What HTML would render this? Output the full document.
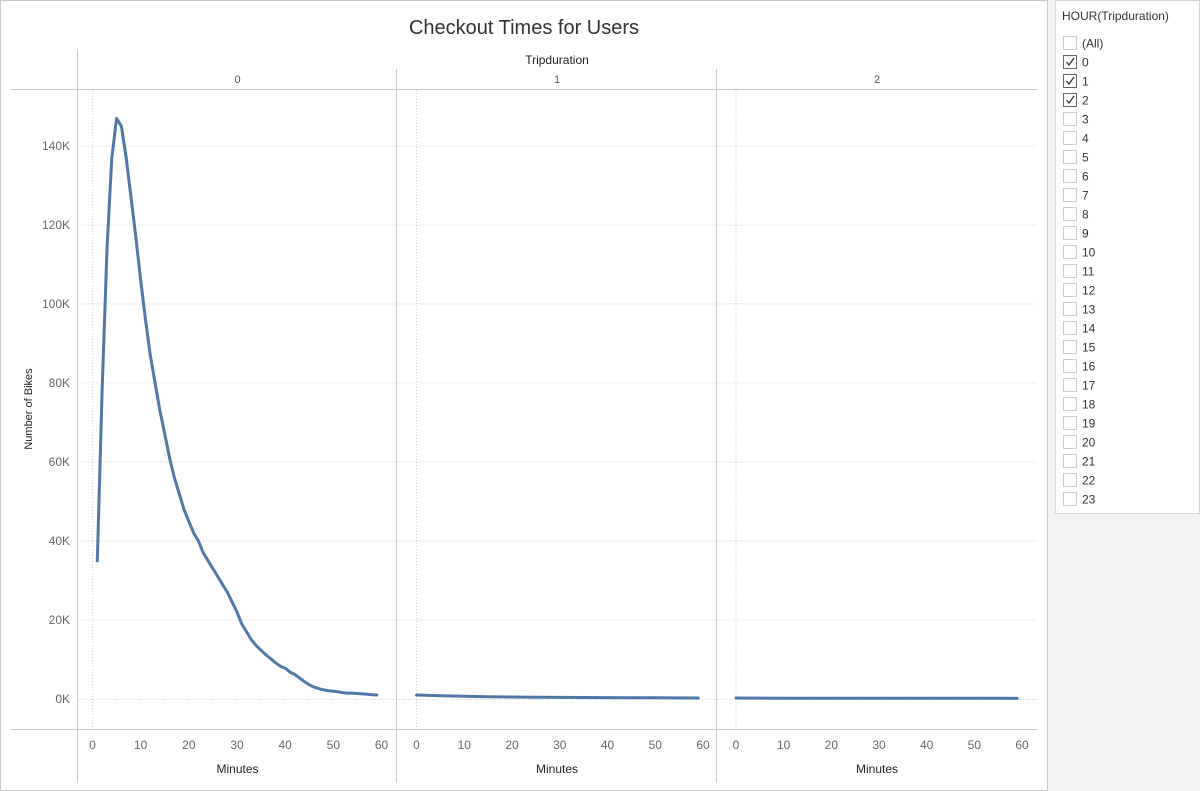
<!DOCTYPE html>
<html><head><meta charset="utf-8">
<style>
body{margin:0;width:1200px;height:791px;overflow:hidden;background:#f2f2f2;font-family:"Liberation Sans",sans-serif}
#chart{position:absolute;left:0;top:0}
</style></head>
<body>
<svg id="chart" width="1200" height="791">
<rect x="0" y="0" width="1048" height="791" fill="#fff"/>
<rect x="0.5" y="0.5" width="1047" height="790" fill="none" stroke="#c8c8c8"/>
<text x="524" y="34" text-anchor="middle" font-size="20" fill="#333">Checkout Times for Users</text>
<text x="557" y="64" text-anchor="middle" font-size="12" fill="#222">Tripduration</text>
<g id="grid"></g>
<g id="panels"></g>
<text transform="translate(32,409) rotate(-90)" text-anchor="middle" font-size="11" fill="#222">Number of Bikes</text>
<g id="filter"></g>
</svg>
<script>
const panelLabels=["0","1","2"];
const minutes0=[1,2,3,4,5,6,7,8,9,10,11,12,13,14,15,16,17,18,19,20,21,22,23,24,25,26,27,28,29,30,31,32,33,34,35,36,37,38,39,40,41,42,43,44,45,46,47,48,49,50,51,52,53,54,55,56,57,58,59];
const bikes0=[35,78,114,137,147,145,137,127,117,106,96,87,80,73,67,61,56,52,48,45,42,40,37,35,33,31,29,27,24.5,22,19,17,15,13.5,12.3,11.2,10.2,9.2,8.3,7.8,6.8,6.2,5.3,4.4,3.6,3.0,2.6,2.3,2.1,2.0,1.8,1.6,1.5,1.5,1.4,1.3,1.2,1.1,1.0];
const minutes12=[0,5,10,15,20,25,30,35,40,45,50,55,59];
const bikes1=[1.0,0.8,0.7,0.55,0.5,0.45,0.4,0.38,0.35,0.33,0.3,0.28,0.25];
const bikes2=[0.25,0.22,0.2,0.2,0.2,0.2,0.2,0.2,0.2,0.18,0.18,0.17,0.15];
const yTicks=[0,20,40,60,80,100,120,140];
const xTicks=[0,10,20,30,40,50,60];
const hours=["(All)","0","1","2","3","4","5","6","7","8","9","10","11","12","13","14","15","16","17","18","19","20","21","22","23"];
const checked=["0","1","2"];

const NS="http://www.w3.org/2000/svg";
function mk(tag,attrs,parent){const e=document.createElementNS(NS,tag);for(const k in attrs)e.setAttribute(k,attrs[k]);parent.appendChild(e);return e;}
const y=v=>699-v*3.95;
const panelX=[[78,397,92.5,381.5],[397,717,416.5,703],[717,1037,736,1022]];
const grid=document.getElementById('grid');
const panels=document.getElementById('panels');
yTicks.forEach(t=>{
  if(t>0){const l=mk('line',{x1:78,x2:1037,y1:y(t),y2:y(t),stroke:'#efefef'},grid);
  
  }
  const tx=mk('text',{x:70,y:y(t)+4,'text-anchor':'end','font-size':12,fill:'#666'},grid);
  
  
  tx.textContent=t+'K';
});
mk('line',{x1:78,x2:1037,y1:699.5,y2:699.5,stroke:'#ccc','stroke-dasharray':'1,2'},grid);
mk('line',{x1:11,x2:1037,y1:89.5,y2:89.5,stroke:'#c8c8c8'},grid);
mk('line',{x1:11,x2:1037,y1:729.5,y2:729.5,stroke:'#c8c8c8'},grid);
mk('line',{x1:77.5,x2:77.5,y1:49,y2:783,stroke:'#c8c8c8'},grid);
mk('line',{x1:396.5,x2:396.5,y1:69,y2:783,stroke:'#c8c8c8'},grid);
mk('line',{x1:716.5,x2:716.5,y1:69,y2:783,stroke:'#c8c8c8'},grid);
const series=[[minutes0,bikes0],[minutes12,bikes1],[minutes12,bikes2]];
panelX.forEach((p,i)=>{
  const xs=m=>p[2]+(p[3]-p[2])*m/60;
  const g=mk('g',{},panels);
  
  
  const h=mk('text',{x:(p[0]+p[1])/2,y:83,'text-anchor':'middle','font-size':11,fill:'#555'},g);
  
  
  h.textContent=panelLabels[i];
  mk('line',{x1:xs(0),x2:xs(0),y1:90,y2:729,stroke:'#ccc','stroke-dasharray':'1,2'},g);
  xTicks.forEach(t=>{
    const tx=mk('text',{x:xs(t),y:749,'text-anchor':'middle','font-size':12,fill:'#666'},g);
    
    
    tx.textContent=t;
  });
  const at=mk('text',{x:(p[0]+p[1])/2,y:773,'text-anchor':'middle','font-size':12,fill:'#222'},g);
  
  
  at.textContent='Minutes';
  const [ms,vs]=series[i];
  const d=ms.map((m,k)=>(k?'L':'M')+xs(m).toFixed(1)+','+y(vs[k]).toFixed(1)).join(' ');
  const path=mk('path',{d:d,fill:'none',stroke:'#4e79a7','stroke-width':3,'stroke-linejoin':'round','stroke-linecap':'round'},g);
  
  
});
const f=document.getElementById('filter');
mk('rect',{x:1055.5,y:0.5,width:144,height:513,fill:'#fff',stroke:'#d4d4d4'},f);
const ft=mk('text',{x:1062,y:20,'font-size':12,fill:'#333'},f);


ft.textContent='HOUR(Tripduration)';
hours.forEach((h,i)=>{
  const yy=43+i*19;
  const g=mk('g',{},f);
  
  
  mk('rect',{x:1063.5,y:yy-6.5,width:13,height:13,fill:'#fff',stroke:checked.includes(h)?'#666':'#ccc'},g);
  if(checked.includes(h)){mk('path',{d:`M1066.5 ${yy} L1069 ${yy+3} L1074 ${yy-4}`,fill:'none',stroke:'#333','stroke-width':1.3},g);}
  const t=mk('text',{x:1082,y:yy+4.5,'font-size':12,fill:'#333'},g);
  t.textContent=h;
});
</script>
</body></html>
